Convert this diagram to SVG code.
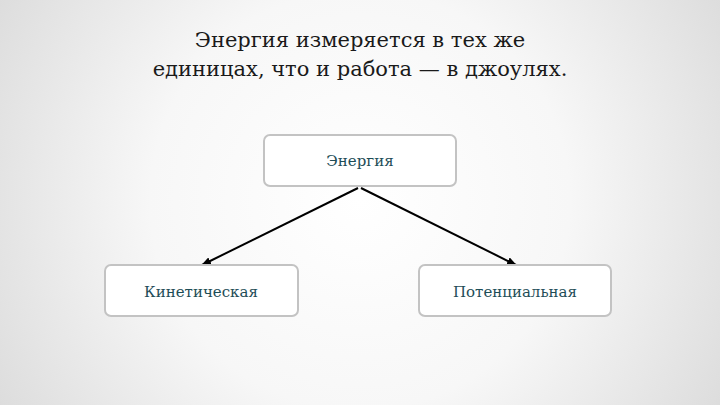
<svg xmlns="http://www.w3.org/2000/svg" width="720" height="405" viewBox="0 0 720 405">
<defs>
<radialGradient id="bg" cx="360" cy="200" r="420" gradientUnits="userSpaceOnUse">
<stop offset="0" stop-color="#ffffff"/>
<stop offset="0.5" stop-color="#f7f7f7"/>
<stop offset="1" stop-color="#dcdcdc"/>
</radialGradient>
<marker id="ah" markerWidth="10" markerHeight="8" refX="9" refY="4" orient="auto" markerUnits="userSpaceOnUse">
<path d="M0,0 L10,4 L0,8 Z" fill="#000"/>
</marker>
<style>
.box{fill:#ffffff;stroke:#c3c3c3;stroke-width:2}
.lbl{font-family:'DejaVu Serif','Liberation Serif',serif;font-size:15px;fill:#1e4d57;text-anchor:middle}
.title{font-family:'DejaVu Serif','Liberation Serif',serif;font-size:21px;fill:#1a1a1a;text-anchor:middle}
.conn{stroke:#000;stroke-width:2;fill:none}
</style>
</defs>
<rect width="720" height="405" fill="url(#bg)"/>
<g id="title">
<text class="title" x="360" y="47">Энергия измеряется в тех же</text>
<text class="title" x="360" y="76">единицах, что и работа — в джоулях.</text>
</g>
<g id="connectors">
<line class="conn" x1="358" y1="188" x2="202" y2="265" marker-end="url(#ah)"/>
<line class="conn" x1="361" y1="188" x2="516" y2="265" marker-end="url(#ah)"/>
</g>
<g id="node-energy">
<rect class="box" x="264" y="135" width="192" height="51" rx="6"/>
<text class="lbl" x="360" y="166">Энергия</text>
</g>
<g id="node-kinetic">
<rect class="box" x="105" y="265" width="193" height="51" rx="6"/>
<text class="lbl" x="201" y="297">Кинетическая</text>
</g>
<g id="node-potential">
<rect class="box" x="419" y="265" width="192" height="51" rx="6"/>
<text class="lbl" x="515" y="297">Потенциальная</text>
</g>
</svg>
